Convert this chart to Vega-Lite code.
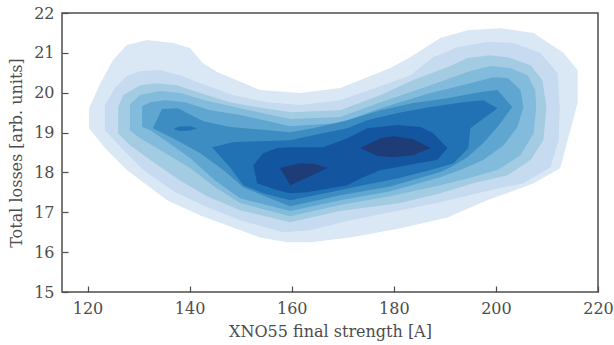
{
  "$schema": "https://vega.github.io/schema/vega-lite/v6.json",
  "autosize": {"type": "none"},
  "padding": {"left": 62, "top": 13, "right": 16, "bottom": 53},
  "width": 536,
  "height": 279,
  "background": "white",
  "config": {
    "view": {"stroke": "#4d4d4d", "strokeWidth": 1.5},
    "axis": {
      "labelFont": "DejaVu Serif",
      "titleFont": "DejaVu Serif",
      "labelFontSize": 16,
      "titleFontSize": 16,
      "labelColor": "#4d4d4d",
      "titleColor": "#4d4d4d",
      "titleFontWeight": "normal",
      "tickColor": "#4d4d4d",
      "tickWidth": 1.2,
      "tickSize": 6,
      "offset": -6,
      "domain": false,
      "grid": false,
      "labelOverlap": false,
      "labelFlush": false,
      "labelBound": false
    }
  },
  "data": {
    "values": [
      {"p": "p1", "i": 0, "x": 120.3, "y": 19.61},
      {"p": "p1", "i": 1, "x": 122.5, "y": 20.24},
      {"p": "p1", "i": 2, "x": 125.0, "y": 20.82},
      {"p": "p1", "i": 3, "x": 127.7, "y": 21.2},
      {"p": "p1", "i": 4, "x": 131.7, "y": 21.32},
      {"p": "p1", "i": 5, "x": 136.8, "y": 21.25},
      {"p": "p1", "i": 6, "x": 140.1, "y": 21.12},
      {"p": "p1", "i": 7, "x": 142.6, "y": 20.74},
      {"p": "p1", "i": 8, "x": 145.4, "y": 20.52},
      {"p": "p1", "i": 9, "x": 153.8, "y": 20.07},
      {"p": "p1", "i": 10, "x": 161.7, "y": 19.99},
      {"p": "p1", "i": 11, "x": 169.5, "y": 20.12},
      {"p": "p1", "i": 12, "x": 179.3, "y": 20.62},
      {"p": "p1", "i": 13, "x": 183.2, "y": 20.89},
      {"p": "p1", "i": 14, "x": 189.1, "y": 21.37},
      {"p": "p1", "i": 15, "x": 194.4, "y": 21.57},
      {"p": "p1", "i": 16, "x": 200.9, "y": 21.62},
      {"p": "p1", "i": 17, "x": 207.4, "y": 21.5},
      {"p": "p1", "i": 18, "x": 213.2, "y": 21.0},
      {"p": "p1", "i": 19, "x": 216.0, "y": 20.57},
      {"p": "p1", "i": 20, "x": 216.0, "y": 19.74},
      {"p": "p1", "i": 21, "x": 212.6, "y": 18.11},
      {"p": "p1", "i": 22, "x": 211.3, "y": 18.01},
      {"p": "p1", "i": 23, "x": 207.4, "y": 17.73},
      {"p": "p1", "i": 24, "x": 198.3, "y": 17.3},
      {"p": "p1", "i": 25, "x": 190.5, "y": 16.87},
      {"p": "p1", "i": 26, "x": 181.3, "y": 16.6},
      {"p": "p1", "i": 27, "x": 171.5, "y": 16.37},
      {"p": "p1", "i": 28, "x": 163.6, "y": 16.25},
      {"p": "p1", "i": 29, "x": 159.1, "y": 16.25},
      {"p": "p1", "i": 30, "x": 153.8, "y": 16.37},
      {"p": "p1", "i": 31, "x": 148.5, "y": 16.62},
      {"p": "p1", "i": 32, "x": 142.1, "y": 16.92},
      {"p": "p1", "i": 33, "x": 135.6, "y": 17.3},
      {"p": "p1", "i": 34, "x": 127.7, "y": 18.06},
      {"p": "p1", "i": 35, "x": 123.4, "y": 18.61},
      {"p": "p1", "i": 36, "x": 120.3, "y": 19.11},

      {"p": "p2", "i": 0, "x": 123.4, "y": 19.69},
      {"p": "p2", "i": 1, "x": 125.4, "y": 20.12},
      {"p": "p2", "i": 2, "x": 127.7, "y": 20.42},
      {"p": "p2", "i": 3, "x": 130.3, "y": 20.54},
      {"p": "p2", "i": 4, "x": 134.2, "y": 20.57},
      {"p": "p2", "i": 5, "x": 138.1, "y": 20.44},
      {"p": "p2", "i": 6, "x": 142.1, "y": 20.24},
      {"p": "p2", "i": 7, "x": 148.5, "y": 19.94},
      {"p": "p2", "i": 8, "x": 155.2, "y": 19.76},
      {"p": "p2", "i": 9, "x": 161.7, "y": 19.69},
      {"p": "p2", "i": 10, "x": 169.5, "y": 19.81},
      {"p": "p2", "i": 11, "x": 177.9, "y": 20.19},
      {"p": "p2", "i": 12, "x": 183.2, "y": 20.44},
      {"p": "p2", "i": 13, "x": 187.7, "y": 20.89},
      {"p": "p2", "i": 14, "x": 192.5, "y": 21.15},
      {"p": "p2", "i": 15, "x": 198.3, "y": 21.27},
      {"p": "p2", "i": 16, "x": 203.4, "y": 21.25},
      {"p": "p2", "i": 17, "x": 208.7, "y": 21.0},
      {"p": "p2", "i": 18, "x": 212.1, "y": 20.49},
      {"p": "p2", "i": 19, "x": 212.5, "y": 19.64},
      {"p": "p2", "i": 20, "x": 212.3, "y": 18.81},
      {"p": "p2", "i": 21, "x": 210.7, "y": 18.13},
      {"p": "p2", "i": 22, "x": 205.4, "y": 17.73},
      {"p": "p2", "i": 23, "x": 198.9, "y": 17.55},
      {"p": "p2", "i": 24, "x": 189.1, "y": 17.25},
      {"p": "p2", "i": 25, "x": 181.3, "y": 17.05},
      {"p": "p2", "i": 26, "x": 171.5, "y": 16.8},
      {"p": "p2", "i": 27, "x": 163.6, "y": 16.55},
      {"p": "p2", "i": 28, "x": 158.3, "y": 16.5},
      {"p": "p2", "i": 29, "x": 149.9, "y": 16.8},
      {"p": "p2", "i": 30, "x": 143.4, "y": 17.13},
      {"p": "p2", "i": 31, "x": 137.2, "y": 17.5},
      {"p": "p2", "i": 32, "x": 130.9, "y": 18.06},
      {"p": "p2", "i": 33, "x": 127.0, "y": 18.56},
      {"p": "p2", "i": 34, "x": 123.4, "y": 19.06},

      {"p": "p3", "i": 0, "x": 126.0, "y": 19.64},
      {"p": "p3", "i": 1, "x": 127.0, "y": 19.94},
      {"p": "p3", "i": 2, "x": 130.3, "y": 20.19},
      {"p": "p3", "i": 3, "x": 133.6, "y": 20.24},
      {"p": "p3", "i": 4, "x": 137.5, "y": 20.19},
      {"p": "p3", "i": 5, "x": 142.1, "y": 19.99},
      {"p": "p3", "i": 6, "x": 147.9, "y": 19.76},
      {"p": "p3", "i": 7, "x": 153.2, "y": 19.64},
      {"p": "p3", "i": 8, "x": 159.7, "y": 19.51},
      {"p": "p3", "i": 9, "x": 169.5, "y": 19.56},
      {"p": "p3", "i": 10, "x": 177.4, "y": 19.94},
      {"p": "p3", "i": 11, "x": 183.8, "y": 20.32},
      {"p": "p3", "i": 12, "x": 190.5, "y": 20.64},
      {"p": "p3", "i": 13, "x": 194.4, "y": 20.87},
      {"p": "p3", "i": 14, "x": 198.9, "y": 20.94},
      {"p": "p3", "i": 15, "x": 202.3, "y": 20.89},
      {"p": "p3", "i": 16, "x": 206.8, "y": 20.69},
      {"p": "p3", "i": 17, "x": 209.1, "y": 20.32},
      {"p": "p3", "i": 18, "x": 209.9, "y": 19.64},
      {"p": "p3", "i": 19, "x": 209.3, "y": 18.81},
      {"p": "p3", "i": 20, "x": 206.8, "y": 18.31},
      {"p": "p3", "i": 21, "x": 202.3, "y": 17.93},
      {"p": "p3", "i": 22, "x": 195.6, "y": 17.73},
      {"p": "p3", "i": 23, "x": 189.1, "y": 17.48},
      {"p": "p3", "i": 24, "x": 181.3, "y": 17.23},
      {"p": "p3", "i": 25, "x": 169.5, "y": 17.03},
      {"p": "p3", "i": 26, "x": 159.7, "y": 16.75},
      {"p": "p3", "i": 27, "x": 149.9, "y": 17.05},
      {"p": "p3", "i": 28, "x": 143.4, "y": 17.4},
      {"p": "p3", "i": 29, "x": 138.1, "y": 17.8},
      {"p": "p3", "i": 30, "x": 132.3, "y": 18.31},
      {"p": "p3", "i": 31, "x": 128.3, "y": 18.68},
      {"p": "p3", "i": 32, "x": 126.0, "y": 18.98},

      {"p": "p4", "i": 0, "x": 128.3, "y": 19.71},
      {"p": "p4", "i": 1, "x": 130.3, "y": 19.94},
      {"p": "p4", "i": 2, "x": 134.2, "y": 20.04},
      {"p": "p4", "i": 3, "x": 138.1, "y": 19.99},
      {"p": "p4", "i": 4, "x": 143.0, "y": 19.81},
      {"p": "p4", "i": 5, "x": 149.9, "y": 19.61},
      {"p": "p4", "i": 6, "x": 159.7, "y": 19.34},
      {"p": "p4", "i": 7, "x": 169.5, "y": 19.39},
      {"p": "p4", "i": 8, "x": 177.4, "y": 19.76},
      {"p": "p4", "i": 9, "x": 187.2, "y": 20.19},
      {"p": "p4", "i": 10, "x": 194.4, "y": 20.52},
      {"p": "p4", "i": 11, "x": 198.9, "y": 20.67},
      {"p": "p4", "i": 12, "x": 202.8, "y": 20.62},
      {"p": "p4", "i": 13, "x": 206.2, "y": 20.44},
      {"p": "p4", "i": 14, "x": 207.7, "y": 20.07},
      {"p": "p4", "i": 15, "x": 207.9, "y": 19.64},
      {"p": "p4", "i": 16, "x": 207.4, "y": 18.98},
      {"p": "p4", "i": 17, "x": 204.8, "y": 18.43},
      {"p": "p4", "i": 18, "x": 200.3, "y": 18.06},
      {"p": "p4", "i": 19, "x": 194.4, "y": 17.85},
      {"p": "p4", "i": 20, "x": 189.1, "y": 17.68},
      {"p": "p4", "i": 21, "x": 179.3, "y": 17.4},
      {"p": "p4", "i": 22, "x": 169.5, "y": 17.18},
      {"p": "p4", "i": 23, "x": 159.7, "y": 16.9},
      {"p": "p4", "i": 24, "x": 149.9, "y": 17.23},
      {"p": "p4", "i": 25, "x": 145.0, "y": 17.63},
      {"p": "p4", "i": 26, "x": 140.1, "y": 18.11},
      {"p": "p4", "i": 27, "x": 134.2, "y": 18.56},
      {"p": "p4", "i": 28, "x": 130.3, "y": 18.86},
      {"p": "p4", "i": 29, "x": 128.3, "y": 19.06},

      {"p": "p5", "i": 0, "x": 130.7, "y": 19.66},
      {"p": "p5", "i": 1, "x": 132.3, "y": 19.76},
      {"p": "p5", "i": 2, "x": 135.2, "y": 19.81},
      {"p": "p5", "i": 3, "x": 139.1, "y": 19.76},
      {"p": "p5", "i": 4, "x": 144.0, "y": 19.56},
      {"p": "p5", "i": 5, "x": 149.9, "y": 19.44},
      {"p": "p5", "i": 6, "x": 159.7, "y": 19.16},
      {"p": "p5", "i": 7, "x": 169.5, "y": 19.24},
      {"p": "p5", "i": 8, "x": 177.4, "y": 19.61},
      {"p": "p5", "i": 9, "x": 187.2, "y": 19.99},
      {"p": "p5", "i": 10, "x": 195.0, "y": 20.24},
      {"p": "p5", "i": 11, "x": 199.5, "y": 20.39},
      {"p": "p5", "i": 12, "x": 202.3, "y": 20.37},
      {"p": "p5", "i": 13, "x": 204.8, "y": 20.07},
      {"p": "p5", "i": 14, "x": 205.4, "y": 19.64},
      {"p": "p5", "i": 15, "x": 204.2, "y": 19.14},
      {"p": "p5", "i": 16, "x": 201.5, "y": 18.68},
      {"p": "p5", "i": 17, "x": 197.5, "y": 18.31},
      {"p": "p5", "i": 18, "x": 193.0, "y": 18.06},
      {"p": "p5", "i": 19, "x": 189.1, "y": 17.88},
      {"p": "p5", "i": 20, "x": 179.3, "y": 17.53},
      {"p": "p5", "i": 21, "x": 169.5, "y": 17.3},
      {"p": "p5", "i": 22, "x": 159.7, "y": 17.03},
      {"p": "p5", "i": 23, "x": 149.9, "y": 17.35},
      {"p": "p5", "i": 24, "x": 145.0, "y": 17.8},
      {"p": "p5", "i": 25, "x": 140.1, "y": 18.36},
      {"p": "p5", "i": 26, "x": 135.2, "y": 18.81},
      {"p": "p5", "i": 27, "x": 132.3, "y": 19.06},
      {"p": "p5", "i": 28, "x": 130.7, "y": 19.14},

      {"p": "p6", "i": 0, "x": 132.8, "y": 19.11},
      {"p": "p6", "i": 1, "x": 134.6, "y": 19.59},
      {"p": "p6", "i": 2, "x": 137.7, "y": 19.61},
      {"p": "p6", "i": 3, "x": 142.6, "y": 19.29},
      {"p": "p6", "i": 4, "x": 147.9, "y": 19.14},
      {"p": "p6", "i": 5, "x": 159.7, "y": 19.01},
      {"p": "p6", "i": 6, "x": 164.2, "y": 19.11},
      {"p": "p6", "i": 7, "x": 170.9, "y": 19.31},
      {"p": "p6", "i": 8, "x": 177.4, "y": 19.56},
      {"p": "p6", "i": 9, "x": 183.8, "y": 19.74},
      {"p": "p6", "i": 10, "x": 190.5, "y": 19.86},
      {"p": "p6", "i": 11, "x": 197.0, "y": 20.02},
      {"p": "p6", "i": 12, "x": 200.3, "y": 20.07},
      {"p": "p6", "i": 13, "x": 203.2, "y": 19.64},
      {"p": "p6", "i": 14, "x": 200.3, "y": 19.14},
      {"p": "p6", "i": 15, "x": 197.5, "y": 18.73},
      {"p": "p6", "i": 16, "x": 194.4, "y": 18.38},
      {"p": "p6", "i": 17, "x": 191.1, "y": 18.13},
      {"p": "p6", "i": 18, "x": 189.1, "y": 18.01},
      {"p": "p6", "i": 19, "x": 179.3, "y": 17.65},
      {"p": "p6", "i": 20, "x": 169.5, "y": 17.43},
      {"p": "p6", "i": 21, "x": 159.7, "y": 17.15},
      {"p": "p6", "i": 22, "x": 155.2, "y": 17.38},
      {"p": "p6", "i": 23, "x": 150.5, "y": 17.63},
      {"p": "p6", "i": 24, "x": 146.6, "y": 18.06},
      {"p": "p6", "i": 25, "x": 142.1, "y": 18.48},
      {"p": "p6", "i": 26, "x": 137.5, "y": 18.81},

      {"p": "p7", "i": 0, "x": 144.4, "y": 18.63},
      {"p": "p7", "i": 1, "x": 148.5, "y": 18.76},
      {"p": "p7", "i": 2, "x": 159.7, "y": 18.81},
      {"p": "p7", "i": 3, "x": 164.2, "y": 18.93},
      {"p": "p7", "i": 4, "x": 170.9, "y": 19.11},
      {"p": "p7", "i": 5, "x": 174.8, "y": 19.31},
      {"p": "p7", "i": 6, "x": 180.7, "y": 19.49},
      {"p": "p7", "i": 7, "x": 187.2, "y": 19.64},
      {"p": "p7", "i": 8, "x": 193.6, "y": 19.76},
      {"p": "p7", "i": 9, "x": 197.5, "y": 19.81},
      {"p": "p7", "i": 10, "x": 200.3, "y": 19.61},
      {"p": "p7", "i": 11, "x": 195.0, "y": 19.11},
      {"p": "p7", "i": 12, "x": 194.6, "y": 18.61},
      {"p": "p7", "i": 13, "x": 191.7, "y": 18.23},
      {"p": "p7", "i": 14, "x": 187.2, "y": 18.06},
      {"p": "p7", "i": 15, "x": 180.7, "y": 17.85},
      {"p": "p7", "i": 16, "x": 174.0, "y": 17.68},
      {"p": "p7", "i": 17, "x": 167.5, "y": 17.5},
      {"p": "p7", "i": 18, "x": 159.7, "y": 17.3},
      {"p": "p7", "i": 19, "x": 154.4, "y": 17.48},
      {"p": "p7", "i": 20, "x": 150.5, "y": 17.68},
      {"p": "p7", "i": 21, "x": 147.9, "y": 18.13},

      {"p": "p7b", "i": 0, "x": 136.8, "y": 19.09},
      {"p": "p7b", "i": 1, "x": 138.1, "y": 19.15},
      {"p": "p7b", "i": 2, "x": 140.1, "y": 19.16},
      {"p": "p7b", "i": 3, "x": 141.5, "y": 19.11},
      {"p": "p7b", "i": 4, "x": 140.1, "y": 19.05},
      {"p": "p7b", "i": 5, "x": 138.1, "y": 19.04},

      {"p": "p8", "i": 0, "x": 152.5, "y": 18.18},
      {"p": "p8", "i": 1, "x": 154.4, "y": 18.48},
      {"p": "p8", "i": 2, "x": 157.2, "y": 18.61},
      {"p": "p8", "i": 3, "x": 159.7, "y": 18.63},
      {"p": "p8", "i": 4, "x": 166.2, "y": 18.63},
      {"p": "p8", "i": 5, "x": 170.9, "y": 18.86},
      {"p": "p8", "i": 6, "x": 174.8, "y": 19.11},
      {"p": "p8", "i": 7, "x": 180.7, "y": 19.19},
      {"p": "p8", "i": 8, "x": 185.2, "y": 19.14},
      {"p": "p8", "i": 9, "x": 187.7, "y": 18.98},
      {"p": "p8", "i": 10, "x": 190.5, "y": 18.61},
      {"p": "p8", "i": 11, "x": 188.5, "y": 18.31},
      {"p": "p8", "i": 12, "x": 184.6, "y": 18.23},
      {"p": "p8", "i": 13, "x": 180.7, "y": 18.13},
      {"p": "p8", "i": 14, "x": 177.4, "y": 18.06},
      {"p": "p8", "i": 15, "x": 174.0, "y": 17.88},
      {"p": "p8", "i": 16, "x": 170.9, "y": 17.68},
      {"p": "p8", "i": 17, "x": 167.5, "y": 17.6},
      {"p": "p8", "i": 18, "x": 163.0, "y": 17.5},
      {"p": "p8", "i": 19, "x": 159.7, "y": 17.48},
      {"p": "p8", "i": 20, "x": 157.2, "y": 17.55},
      {"p": "p8", "i": 21, "x": 153.2, "y": 17.73},

      {"p": "p9a", "i": 0, "x": 157.7, "y": 18.11},
      {"p": "p9a", "i": 1, "x": 161.7, "y": 18.23},
      {"p": "p9a", "i": 2, "x": 164.6, "y": 18.21},
      {"p": "p9a", "i": 3, "x": 167.0, "y": 18.11},
      {"p": "p9a", "i": 4, "x": 164.0, "y": 17.93},
      {"p": "p9a", "i": 5, "x": 159.7, "y": 17.68},
      {"p": "p9a", "i": 6, "x": 158.7, "y": 17.9},

      {"p": "p9b", "i": 0, "x": 173.4, "y": 18.61},
      {"p": "p9b", "i": 1, "x": 177.4, "y": 18.86},
      {"p": "p9b", "i": 2, "x": 179.9, "y": 18.91},
      {"p": "p9b", "i": 3, "x": 183.8, "y": 18.83},
      {"p": "p9b", "i": 4, "x": 187.2, "y": 18.61},
      {"p": "p9b", "i": 5, "x": 183.8, "y": 18.43},
      {"p": "p9b", "i": 6, "x": 179.9, "y": 18.38},
      {"p": "p9b", "i": 7, "x": 176.8, "y": 18.41}
    ]
  },
  "mark": {"type": "line", "interpolate": "linear-closed", "filled": true, "strokeWidth": 0},
  "encoding": {
    "x": {
      "field": "x", "type": "quantitative",
      "scale": {"domain": [115, 220], "nice": false, "zero": false},
      "axis": {"values": [120, 140, 160, 180, 200, 220], "title": "XNO55 final strength [A]", "labelPadding": 8, "titlePadding": 7}
    },
    "y": {
      "field": "y", "type": "quantitative",
      "scale": {"domain": [15, 22], "nice": false, "zero": false},
      "axis": {"values": [15, 16, 17, 18, 19, 20, 21, 22], "title": "Total losses [arb. units]", "labelPadding": 8, "titlePadding": 9}
    },
    "color": {
      "field": "p", "type": "nominal", "legend": null,
      "scale": {
        "domain": ["p1", "p2", "p3", "p4", "p5", "p6", "p7", "p7b", "p8", "p9a", "p9b"],
        "range": ["#dae8f5", "#c6dbef", "#a3cce3", "#82bbdb", "#5fa6d1", "#3d8dc3", "#2171b5", "#2171b5", "#1455a0", "#1e3c78", "#1e3c78"]
      }
    },
    "order": {"field": "i", "type": "quantitative"}
  }
}
